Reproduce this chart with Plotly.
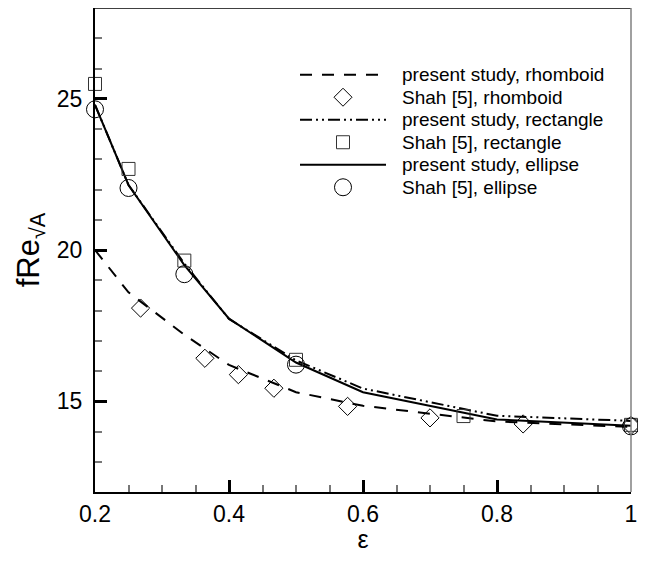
import plotly.graph_objects as go

# ---- data ----
eps_model = [0.2, 0.25, 1/3, 0.4, 0.5, 0.6, 0.8, 1.0]
rhomboid_model = [20.0, 18.6, 17.2, 16.2, 15.3, 14.85, 14.33, 14.15]
rectangle_model = [24.8, 22.15, 19.55, 17.72, 16.35, 15.42, 14.52, 14.35]
ellipse_model = [24.8, 22.15, 19.5, 17.73, 16.28, 15.3, 14.4, 14.19]

eps_shah_rhomboid = [0.268, 0.364, 0.414, 0.467, 0.577, 0.7, 0.839, 1.0]
shah_rhomboid = [18.08, 16.42, 15.88, 15.43, 14.83, 14.45, 14.25, 14.2]

eps_shah_rectangle = [0.2, 0.25, 1/3, 0.5, 0.75, 1.0]
shah_rectangle = [25.49, 22.68, 19.65, 16.37, 14.51, 14.22]

eps_shah_ellipse = [0.2, 0.25, 1/3, 0.5, 1.0]
shah_ellipse = [24.65, 22.05, 19.2, 16.21, 14.17]

legend_labels = ["present study, rhomboid", "Shah [5], rhomboid",
                 "present study, rectangle", "Shah [5], rectangle",
                 "present study, ellipse", "Shah [5], ellipse"]

x_ticks = [0.2, 0.4, 0.6, 0.8, 1.0]
x_ticktext = ["0.2", "0.4", "0.6", "0.8", "1"]
y_ticks = [15, 20, 25]
y_ticktext = ["15", "20", "25"]

FONT = "Liberation Sans, Arial, sans-serif"
DASH = "12px,10px"
DASHDOT = "12px,4px,2px,4px,2px,4px"

fig = go.Figure()

fig.add_trace(go.Scatter(x=eps_model, y=rhomboid_model, mode="lines",
                         line=dict(color="black", width=2, dash=DASH),
                         name=legend_labels[0]))
fig.add_trace(go.Scatter(x=eps_model, y=rectangle_model, mode="lines",
                         line=dict(color="black", width=2, dash=DASHDOT),
                         name=legend_labels[2]))
fig.add_trace(go.Scatter(x=eps_model, y=ellipse_model, mode="lines",
                         line=dict(color="black", width=2),
                         name=legend_labels[4]))
fig.add_trace(go.Scatter(x=eps_shah_rhomboid, y=shah_rhomboid, mode="markers",
                         cliponaxis=False,
                         marker=dict(symbol="diamond-open", size=14, color="black",
                                     line=dict(width=1, color="black")),
                         name=legend_labels[1]))
fig.add_trace(go.Scatter(x=eps_shah_rectangle, y=shah_rectangle, mode="markers",
                         cliponaxis=False,
                         marker=dict(symbol="square-open", size=13, color="#333",
                                     line=dict(width=1, color="#333")),
                         name=legend_labels[3]))
fig.add_trace(go.Scatter(x=eps_shah_ellipse, y=shah_ellipse, mode="markers",
                         cliponaxis=False,
                         marker=dict(symbol="circle-open", size=17, color="black",
                                     line=dict(width=1, color="black")),
                         name=legend_labels[5]))

# ---- layout geometry (page has an 8px body margin) ----
OFF = 8
W, H = 630, 545
L, R, T, B = 87, 7, 0, 59
pw, ph = W - L - R, H - T - B

def px(xp):
    return (xp - OFF - L) / pw

def py(yp):
    return (T + ph - (yp - OFF)) / ph

# ---- manual legend (long line samples like the reference) ----
rows = [75 + 22.6 * i for i in range(6)]
line_styles = [DASH, None, DASHDOT, None, "solid", None]
shapes = []
for i, yy in enumerate(rows):
    if i % 2 == 0:
        shapes.append(dict(type="line", xref="paper", yref="paper",
                           x0=px(300), x1=px(386), y0=py(yy), y1=py(yy),
                           line=dict(color="black", width=2, dash=line_styles[i])))
xa = px(343)
shapes.append(dict(type="path", xref="paper", yref="paper",
                   xsizemode="pixel", ysizemode="pixel",
                   xanchor=xa, yanchor=py(rows[1]),
                   path="M0,9 L9,0 L0,-9 L-9,0 Z",
                   line=dict(color="black", width=1)))
shapes.append(dict(type="rect", xref="paper", yref="paper",
                   xsizemode="pixel", ysizemode="pixel",
                   xanchor=xa, yanchor=py(rows[3]),
                   x0=-6.5, x1=6.5, y0=-6.5, y1=6.5,
                   line=dict(color="#333", width=1)))
shapes.append(dict(type="circle", xref="paper", yref="paper",
                   xsizemode="pixel", ysizemode="pixel",
                   xanchor=xa, yanchor=py(rows[5]),
                   x0=-8.5, x1=8.5, y0=-8.5, y1=8.5,
                   line=dict(color="black", width=1)))
# top and right frame lines
shapes.append(dict(type="line", xref="paper", yref="paper", x0=0, x1=1, y0=1, y1=1,
                   line=dict(color="black", width=1.5)))
shapes.append(dict(type="line", xref="paper", yref="paper", x0=1, x1=1, y0=0, y1=1,
                   line=dict(color="#808080", width=1.5)))

annotations = []
for i, yy in enumerate(rows):
    annotations.append(dict(xref="paper", yref="paper", x=px(400), y=py(yy),
                            xanchor="left", yanchor="middle", showarrow=False,
                            text=legend_labels[i],
                            font=dict(family=FONT, size=19, color="black")))

fig.update_layout(
    width=W, height=H,
    margin=dict(l=L, r=R, t=T, b=B),
    paper_bgcolor="white", plot_bgcolor="white",
    showlegend=False,
    shapes=shapes, annotations=annotations,
    font=dict(family=FONT, color="black"),
)
fig.update_xaxes(
    range=[0.2, 1.0], showgrid=False, zeroline=False,
    showline=True, linecolor="black", linewidth=2,
    ticks="inside", ticklen=12, tickwidth=3, tickcolor="black",
    tickvals=x_ticks, ticktext=x_ticktext,
    tickfont=dict(family=FONT, size=23),
    minor=dict(ticks="inside", ticklen=7, tickwidth=1.5, tickcolor="#777", dtick=0.05),
    title=dict(text="ε", font=dict(family=FONT, size=25), standoff=9),
)
fig.update_yaxes(
    range=[12, 28], showgrid=False, zeroline=False,
    showline=True, linecolor="black", linewidth=2,
    ticks="inside", ticklen=12, tickwidth=3, tickcolor="black",
    tickvals=y_ticks, ticktext=y_ticktext,
    tickfont=dict(family=FONT, size=23),
    ticklabelstandoff=6,
    minor=dict(ticks="inside", ticklen=7, tickwidth=1.5, tickcolor="#777", dtick=1),
    title=dict(text="fRe<sub>√A</sub>", font=dict(family=FONT, size=31), standoff=8),
)

fig.write_html("out.html")
